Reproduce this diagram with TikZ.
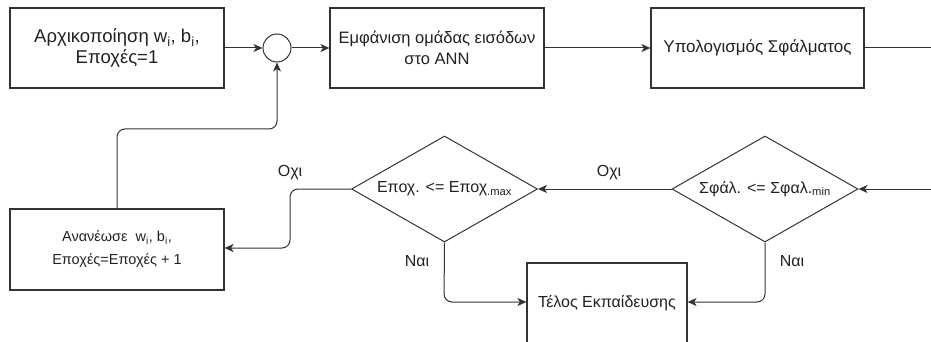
\documentclass[tikz,border=0pt]{standalone}
\usepackage{fontspec}
\setmainfont{Liberation Sans}
\usetikzlibrary{shapes.geometric,arrows.meta}
\definecolor{txt}{HTML}{222222}
\definecolor{ln}{HTML}{333333}
\tikzset{
  box/.style={draw=ln, line width=1.2pt, rectangle, minimum width=214pt, minimum height=80pt, inner sep=2pt, align=center, text=txt},
  dia/.style={draw=ln, line width=1pt, diamond, aspect=1.755, inner sep=0pt, minimum width=186pt, minimum height=106pt, align=center, text=txt},
  conn/.style={draw=ln, line width=1pt, rounded corners=8pt, -{Stealth[length=9pt,width=8pt,inset=2.5pt]}},
  plain/.style={draw=ln, line width=1pt},
  lbl/.style={text=txt, inner sep=0pt},
  big/.style={font=\fontsize{18.5}{20.5}\selectfont},
  bigb/.style={font=\fontsize{16.5}{20.5}\selectfont},
  bigc/.style={font=\fontsize{17}{20.5}\selectfont},
  mid/.style={font=\fontsize{16}{20}\selectfont},
  sml/.style={font=\fontsize{14.5}{23}\selectfont},
}
\newcommand{\lsub}[1]{\textsubscript{#1}}
\begin{document}
\begin{tikzpicture}[x=1pt,y=-1pt]
\clip (0,0) rectangle (931,342);
\fill[white] (0,0) rectangle (931,342);
\node[box,big] (b1) at (117,48) {Αρχικοποίηση w\lsub{i}, b\lsub{i},\\Εποχές=1};
\node[draw=ln, line width=1pt, circle, minimum size=28pt, inner sep=0pt] (c) at (277,48) {};
\node[box,bigb] (b2) at (437,48) {Εμφάνιση ομάδας εισόδων\\στο ΑΝΝ};
\node[box,bigc,minimum width=213pt] (b3) at (757.5,48) {Υπολογισμός Σφάλματος};
\node[dia,mid] (d2) at (765,189) {Σφάλ. <= Σφαλ.\lsub{min}};
\node[dia,mid] (d1) at (444.5,189) {Εποχ. <= Εποχ\lsub{.max}};
\node[box,sml,minimum height=81pt] (b4) at (117,249.5) {Ανανέωσε \ w\lsub{i}, b\lsub{i},\\Εποχές=Εποχές + 1};
\node[box,mid,minimum width=160pt,minimum height=80pt] (b5) at (607,303) {Τέλος Εκπαίδευσης};
\coordinate (r1) at (931,48);
\coordinate (r2) at (931,189);
\draw[conn] (b1.east) -- (c.west);
\draw[conn] (c.east) -- (b2.west);
\draw[conn] (b2.east) -- (b3.west);
\draw[plain] (b3.east) -- (r1);
\draw[conn] (r2) -- (d2.east);
\draw[conn] (d2.west) -- (d1.east);
\draw[conn] (d1.west) -- (290,189) -- (290,248) -- (b4.east |- 0,248);
\draw[conn] (b4.north) -- (117,129) -- (277,129) -- (c.south);
\draw[conn] (d1.south) -- (444,302) -- (b5.west |- 0,302);
\draw[conn] (d2.south) -- (765,302) -- (b5.east |- 0,302);
\node[lbl,mid] (l1) at (609,173) {Οχι};
\node[lbl,mid] (l2) at (290,173) {Οχι};
\node[lbl,mid] (l3) at (417,261) {Ναι};
\node[lbl,mid] (l4) at (792,261) {Ναι};
\end{tikzpicture}
\end{document}
